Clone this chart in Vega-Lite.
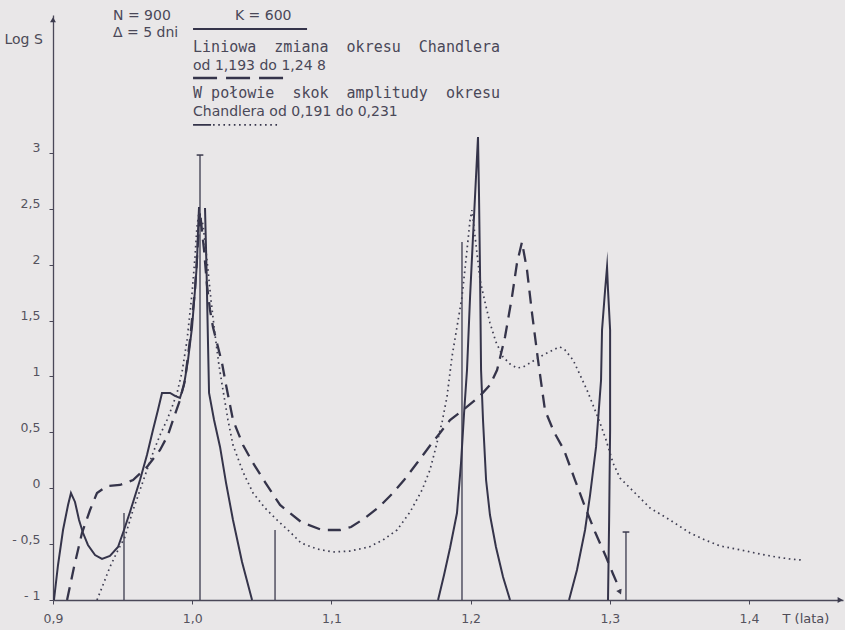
{
  "$schema": "https://vega.github.io/schema/vega-lite/v6.json",
  "width": 790,
  "height": 585,
  "autosize": "none",
  "padding": {"left": 53, "top": 15, "right": 2, "bottom": 30},
  "background": "#e9e7e8",
  "config": {
    "view": {"stroke": null},
    "font": "DejaVu Sans",
    "axis": {"grid": false, "labelFlush": false, "domainColor": "#4a4858", "domainWidth": 1.3, "tickColor": "#4a4858", "labelColor": "#55535e", "labelFont": "DejaVu Sans", "labelFontSize": 12.5, "titleColor": "#4d4b57", "titleFont": "DejaVu Sans", "titleFontWeight": "normal"}
  },
  "datasets": {
    "curves": [
      {"s": "A", "T": 0.9007, "L": -1.0}, {"s": "A", "T": 0.9036, "L": -0.687}, {"s": "A", "T": 0.9072, "L": -0.374}, {"s": "A", "T": 0.9108, "L": -0.15}, {"s": "A", "T": 0.9129, "L": -0.043}, {"s": "A", "T": 0.9158, "L": -0.123}, {"s": "A", "T": 0.9187, "L": -0.284}, {"s": "A", "T": 0.9216, "L": -0.401}, {"s": "A", "T": 0.9251, "L": -0.508}, {"s": "A", "T": 0.9302, "L": -0.598}, {"s": "A", "T": 0.9352, "L": -0.633}, {"s": "A", "T": 0.9409, "L": -0.606}, {"s": "A", "T": 0.9467, "L": -0.526}, {"s": "A", "T": 0.951, "L": -0.374}, {"s": "A", "T": 0.9553, "L": -0.213}, {"s": "A", "T": 0.9625, "L": 0.073}, {"s": "A", "T": 0.9675, "L": 0.297}, {"s": "A", "T": 0.9718, "L": 0.521}, {"s": "A", "T": 0.9754, "L": 0.699}, {"s": "A", "T": 0.9783, "L": 0.852}, {"s": "A", "T": 0.9841, "L": 0.852}, {"s": "A", "T": 0.9876, "L": 0.825}, {"s": "A", "T": 0.9912, "L": 0.807}, {"s": "A", "T": 0.9941, "L": 0.923}, {"s": "A", "T": 0.997, "L": 1.147}, {"s": "A", "T": 0.9999, "L": 1.442}, {"s": "A", "T": 1.002, "L": 1.773}, {"s": "A", "T": 1.0034, "L": 2.014}, {"s": "A", "T": 1.0042, "L": 2.309}, {"s": "A", "T": 1.0049, "L": 2.515},
      {"s": "B", "T": 1.0092, "L": 2.506}, {"s": "B", "T": 1.0103, "L": 1.952}, {"s": "B", "T": 1.0113, "L": 1.326}, {"s": "B", "T": 1.0121, "L": 0.852}, {"s": "B", "T": 1.0157, "L": 0.61}, {"s": "B", "T": 1.02, "L": 0.369}, {"s": "B", "T": 1.0243, "L": 0.047}, {"s": "B", "T": 1.0293, "L": -0.284}, {"s": "B", "T": 1.0358, "L": -0.66}, {"s": "B", "T": 1.043, "L": -1.0},
      {"s": "C", "T": 1.1766, "L": -1.0}, {"s": "C", "T": 1.1809, "L": -0.776}, {"s": "C", "T": 1.1852, "L": -0.535}, {"s": "C", "T": 1.1902, "L": -0.222}, {"s": "C", "T": 1.1931, "L": 0.225}, {"s": "C", "T": 1.1953, "L": 0.673}, {"s": "C", "T": 1.1974, "L": 1.057}, {"s": "C", "T": 1.1996, "L": 1.71}, {"s": "C", "T": 1.2017, "L": 2.247}, {"s": "C", "T": 1.2053, "L": 3.141}, {"s": "C", "T": 1.206, "L": 2.64}, {"s": "C", "T": 1.2068, "L": 1.889}, {"s": "C", "T": 1.2075, "L": 1.057}, {"s": "C", "T": 1.2089, "L": 0.61}, {"s": "C", "T": 1.2111, "L": 0.073}, {"s": "C", "T": 1.2139, "L": -0.24}, {"s": "C", "T": 1.2182, "L": -0.526}, {"s": "C", "T": 1.2233, "L": -0.794}, {"s": "C", "T": 1.2283, "L": -1.0},
      {"s": "D", "T": 1.2707, "L": -1.0}, {"s": "D", "T": 1.2764, "L": -0.732}, {"s": "D", "T": 1.2822, "L": -0.374}, {"s": "D", "T": 1.2858, "L": -0.061}, {"s": "D", "T": 1.2901, "L": 0.369}, {"s": "D", "T": 1.2937, "L": 0.968}, {"s": "D", "T": 1.2944, "L": 1.415}, {"s": "D", "T": 1.2966, "L": 1.773}, {"s": "D", "T": 1.298, "L": 1.979}, {"s": "D", "T": 1.2987, "L": 1.773}, {"s": "D", "T": 1.3002, "L": 1.415}, {"s": "D", "T": 1.3002, "L": 0.521}, {"s": "D", "T": 1.2995, "L": -0.284}, {"s": "D", "T": 1.2987, "L": -1.0},
      {"s": "dash", "T": 0.9101, "L": -1.0}, {"s": "dash", "T": 0.9151, "L": -0.705}, {"s": "dash", "T": 0.9208, "L": -0.401}, {"s": "dash", "T": 0.9266, "L": -0.195}, {"s": "dash", "T": 0.9316, "L": -0.043}, {"s": "dash", "T": 0.9388, "L": 0.02}, {"s": "dash", "T": 0.9481, "L": 0.029}, {"s": "dash", "T": 0.9575, "L": 0.073}, {"s": "dash", "T": 0.9675, "L": 0.19}, {"s": "dash", "T": 0.9769, "L": 0.342}, {"s": "dash", "T": 0.9826, "L": 0.476}, {"s": "dash", "T": 0.9862, "L": 0.61}, {"s": "dash", "T": 0.9912, "L": 0.789}, {"s": "dash", "T": 0.9948, "L": 0.968}, {"s": "dash", "T": 0.9984, "L": 1.326}, {"s": "dash", "T": 1.002, "L": 1.773}, {"s": "dash", "T": 1.0042, "L": 2.22}, {"s": "dash", "T": 1.0056, "L": 2.47}, {"s": "dash", "T": 1.0085, "L": 2.131}, {"s": "dash", "T": 1.0106, "L": 1.818}, {"s": "dash", "T": 1.0128, "L": 1.594}, {"s": "dash", "T": 1.0149, "L": 1.442}, {"s": "dash", "T": 1.0178, "L": 1.299}, {"s": "dash", "T": 1.0214, "L": 1.12}, {"s": "dash", "T": 1.0243, "L": 0.923}, {"s": "dash", "T": 1.0293, "L": 0.61}, {"s": "dash", "T": 1.0365, "L": 0.386}, {"s": "dash", "T": 1.0437, "L": 0.225}, {"s": "dash", "T": 1.0523, "L": 0.055}, {"s": "dash", "T": 1.0631, "L": -0.15}, {"s": "dash", "T": 1.0782, "L": -0.302}, {"s": "dash", "T": 1.0932, "L": -0.374}, {"s": "dash", "T": 1.1062, "L": -0.374}, {"s": "dash", "T": 1.1141, "L": -0.347}, {"s": "dash", "T": 1.1241, "L": -0.267}, {"s": "dash", "T": 1.1342, "L": -0.168}, {"s": "dash", "T": 1.1435, "L": -0.052}, {"s": "dash", "T": 1.1522, "L": 0.073}, {"s": "dash", "T": 1.1615, "L": 0.225}, {"s": "dash", "T": 1.1701, "L": 0.369}, {"s": "dash", "T": 1.178, "L": 0.494}, {"s": "dash", "T": 1.1852, "L": 0.61}, {"s": "dash", "T": 1.1945, "L": 0.699}, {"s": "dash", "T": 1.206, "L": 0.816}, {"s": "dash", "T": 1.2139, "L": 0.923}, {"s": "dash", "T": 1.219, "L": 1.057}, {"s": "dash", "T": 1.2247, "L": 1.352}, {"s": "dash", "T": 1.2297, "L": 1.71}, {"s": "dash", "T": 1.2333, "L": 2.014}, {"s": "dash", "T": 1.2369, "L": 2.202}, {"s": "dash", "T": 1.2405, "L": 1.952}, {"s": "dash", "T": 1.2441, "L": 1.567}, {"s": "dash", "T": 1.2484, "L": 1.147}, {"s": "dash", "T": 1.2534, "L": 0.699}, {"s": "dash", "T": 1.2599, "L": 0.503}, {"s": "dash", "T": 1.2671, "L": 0.342}, {"s": "dash", "T": 1.275, "L": 0.073}, {"s": "dash", "T": 1.2822, "L": -0.168}, {"s": "dash", "T": 1.2894, "L": -0.392}, {"s": "dash", "T": 1.2973, "L": -0.615}, {"s": "dash", "T": 1.3023, "L": -0.767}, {"s": "dash", "T": 1.3073, "L": -0.911},
      {"s": "dot", "T": 0.9316, "L": -1.0}, {"s": "dot", "T": 0.9359, "L": -0.866}, {"s": "dot", "T": 0.9409, "L": -0.705}, {"s": "dot", "T": 0.946, "L": -0.571}, {"s": "dot", "T": 0.9517, "L": -0.436}, {"s": "dot", "T": 0.9568, "L": -0.222}, {"s": "dot", "T": 0.9625, "L": -0.016}, {"s": "dot", "T": 0.9675, "L": 0.163}, {"s": "dot", "T": 0.9718, "L": 0.315}, {"s": "dot", "T": 0.9769, "L": 0.476}, {"s": "dot", "T": 0.9819, "L": 0.61}, {"s": "dot", "T": 0.9855, "L": 0.726}, {"s": "dot", "T": 0.9891, "L": 0.852}, {"s": "dot", "T": 0.9927, "L": 1.039}, {"s": "dot", "T": 0.9963, "L": 1.326}, {"s": "dot", "T": 0.9999, "L": 1.746}, {"s": "dot", "T": 1.002, "L": 2.068}, {"s": "dot", "T": 1.0034, "L": 2.336}, {"s": "dot", "T": 1.0049, "L": 2.47}, {"s": "dot", "T": 1.0078, "L": 2.354}, {"s": "dot", "T": 1.0106, "L": 2.041}, {"s": "dot", "T": 1.0135, "L": 1.683}, {"s": "dot", "T": 1.0164, "L": 1.37}, {"s": "dot", "T": 1.0192, "L": 1.102}, {"s": "dot", "T": 1.0221, "L": 0.878}, {"s": "dot", "T": 1.0257, "L": 0.61}, {"s": "dot", "T": 1.0293, "L": 0.386}, {"s": "dot", "T": 1.0365, "L": 0.145}, {"s": "dot", "T": 1.0437, "L": -0.043}, {"s": "dot", "T": 1.0523, "L": -0.177}, {"s": "dot", "T": 1.0609, "L": -0.284}, {"s": "dot", "T": 1.0703, "L": -0.392}, {"s": "dot", "T": 1.0782, "L": -0.49}, {"s": "dot", "T": 1.0897, "L": -0.544}, {"s": "dot", "T": 1.1011, "L": -0.571}, {"s": "dot", "T": 1.1134, "L": -0.562}, {"s": "dot", "T": 1.127, "L": -0.526}, {"s": "dot", "T": 1.1371, "L": -0.463}, {"s": "dot", "T": 1.1471, "L": -0.374}, {"s": "dot", "T": 1.1565, "L": -0.213}, {"s": "dot", "T": 1.1651, "L": -0.016}, {"s": "dot", "T": 1.1708, "L": 0.163}, {"s": "dot", "T": 1.1751, "L": 0.369}, {"s": "dot", "T": 1.1795, "L": 0.592}, {"s": "dot", "T": 1.183, "L": 0.816}, {"s": "dot", "T": 1.1866, "L": 1.174}, {"s": "dot", "T": 1.1902, "L": 1.442}, {"s": "dot", "T": 1.1938, "L": 1.71}, {"s": "dot", "T": 1.1974, "L": 2.131}, {"s": "dot", "T": 1.1996, "L": 2.399}, {"s": "dot", "T": 1.201, "L": 2.488}, {"s": "dot", "T": 1.2039, "L": 2.175}, {"s": "dot", "T": 1.2068, "L": 1.862}, {"s": "dot", "T": 1.2103, "L": 1.665}, {"s": "dot", "T": 1.2139, "L": 1.478}, {"s": "dot", "T": 1.2182, "L": 1.308}, {"s": "dot", "T": 1.2233, "L": 1.174}, {"s": "dot", "T": 1.2283, "L": 1.111}, {"s": "dot", "T": 1.2333, "L": 1.075}, {"s": "dot", "T": 1.2376, "L": 1.084}, {"s": "dot", "T": 1.2427, "L": 1.12}, {"s": "dot", "T": 1.2484, "L": 1.165}, {"s": "dot", "T": 1.2549, "L": 1.209}, {"s": "dot", "T": 1.2606, "L": 1.245}, {"s": "dot", "T": 1.2642, "L": 1.263}, {"s": "dot", "T": 1.2678, "L": 1.236}, {"s": "dot", "T": 1.2736, "L": 1.147}, {"s": "dot", "T": 1.2786, "L": 1.013}, {"s": "dot", "T": 1.2836, "L": 0.878}, {"s": "dot", "T": 1.2879, "L": 0.744}, {"s": "dot", "T": 1.293, "L": 0.583}, {"s": "dot", "T": 1.2973, "L": 0.431}, {"s": "dot", "T": 1.3023, "L": 0.225}, {"s": "dot", "T": 1.3073, "L": 0.091}, {"s": "dot", "T": 1.3181, "L": -0.043}, {"s": "dot", "T": 1.3289, "L": -0.177}, {"s": "dot", "T": 1.3432, "L": -0.284}, {"s": "dot", "T": 1.3576, "L": -0.401}, {"s": "dot", "T": 1.3684, "L": -0.463}, {"s": "dot", "T": 1.3792, "L": -0.517}, {"s": "dot", "T": 1.3943, "L": -0.553}, {"s": "dot", "T": 1.4079, "L": -0.589}, {"s": "dot", "T": 1.4194, "L": -0.615}, {"s": "dot", "T": 1.4294, "L": -0.633}, {"s": "dot", "T": 1.4373, "L": -0.642}
    ],
    "markers": [
      {"T": 0.951, "top": -0.222, "cap": false},
      {"T": 1.0056, "top": 2.98, "cap": true},
      {"T": 1.0595, "top": -0.374, "cap": false},
      {"T": 1.1938, "top": 2.202, "cap": false},
      {"T": 1.3116, "top": -0.392, "cap": true}
    ],
    "samples": [
      {"k": "solid", "T1": 1.0006, "T2": 1.0825, "L": 4.107},
      {"k": "dash", "T1": 1.0006, "T2": 1.0688, "L": 3.669},
      {"k": "dot", "T1": 1.0006, "T2": 1.0628, "L": 3.249}
    ],
    "labels": [
      {"t": "N = 900", "T": 0.9431, "L": 4.224},
      {"t": "Δ = 5  dni", "T": 0.9431, "L": 4.072},
      {"t": "K = 600", "T": 1.0307, "L": 4.224},
      {"t": "Liniowa \u00a0zmiana \u00a0okresu \u00a0Chandlera", "T": 1.0006, "L": 3.946},
      {"t": "od 1,193  do  1,24 8", "T": 1.0006, "L": 3.776},
      {"t": "W połowie \u00a0skok \u00a0amplitudy \u00a0okresu", "T": 1.0006, "L": 3.535},
      {"t": "Chandlera  od 0,191  do  0,231", "T": 1.0006, "L": 3.365}
    ],
    "arrows": [
      {"T": 0.9, "L": 4.19, "a": 0},
      {"T": 1.4655, "L": -1.0, "a": 90},
      {"T": 1.3073, "L": -0.93, "a": 156}
    ]
  },
  "layer": [
    {
      "data": {"name": "markers"},
      "transform": [{"calculate": "-1", "as": "bot"}],
      "mark": {"type": "rule", "color": "#3b3a4d", "strokeWidth": 1.3},
      "encoding": {
        "x": {"field": "T", "type": "quantitative", "scale": {"domain": [0.9, 1.4675], "nice": false, "zero": false},
          "axis": {"values": [0.9, 1.0, 1.1, 1.2, 1.3, 1.4], "labelExpr": "replace(format(datum.value, '.1f'), '.', ',')", "tickSize": 4, "labelPadding": 8, "title": "T (lata)", "titleX": 729, "titleY": 18, "titleAlign": "left", "titleBaseline": "middle", "titleFontSize": 13}},
        "y": {"field": "top", "type": "quantitative", "scale": {"domain": [-1, 4.2326], "nice": false, "zero": false},
          "axis": {"values": [-1, -0.5, 0, 0.5, 1, 1.5, 2, 2.5, 3], "labelExpr": "datum.value < 0 ? '- ' + replace(format(-datum.value, ''), '.', ',') : replace(format(datum.value, ''), '.', ',')", "tickSize": 4, "labelPadding": 9, "labelOffset": -5, "title": "Log S", "titleAngle": 0, "titleX": -49, "titleY": 24, "titleAlign": "left", "titleBaseline": "middle", "titleFontSize": 14}},
        "y2": {"field": "bot"}
      }
    },
    {
      "data": {"name": "markers"},
      "transform": [{"filter": "datum.cap"}],
      "mark": {"type": "point", "shape": "M-1,0L1,0", "filled": false, "size": 45, "stroke": "#3b3a4d", "strokeWidth": 1.5, "opacity": 1},
      "encoding": {"x": {"field": "T", "type": "quantitative"}, "y": {"field": "top", "type": "quantitative"}}
    },
    {
      "data": {"name": "curves"},
      "transform": [{"window": [{"op": "row_number", "as": "i"}]}, {"filter": {"field": "s", "oneOf": ["A", "B", "C", "D"]}}],
      "mark": {"type": "line", "color": "#35344a", "strokeWidth": 2, "strokeJoin": "miter", "strokeMiterLimit": 20},
      "encoding": {"x": {"field": "T", "type": "quantitative"}, "y": {"field": "L", "type": "quantitative"}, "detail": {"field": "s", "type": "nominal"}, "order": {"field": "i", "type": "quantitative"}}
    },
    {
      "data": {"name": "curves"},
      "transform": [{"filter": {"field": "s", "equal": "dash"}}],
      "mark": {"type": "line", "color": "#35344a", "strokeWidth": 2.3, "strokeDash": [13, 8]},
      "encoding": {"x": {"field": "T", "type": "quantitative"}, "y": {"field": "L", "type": "quantitative"}}
    },
    {
      "data": {"name": "curves"},
      "transform": [{"filter": {"field": "s", "equal": "dot"}}],
      "mark": {"type": "line", "color": "#3f3e52", "strokeWidth": 1.7, "strokeDash": [1.6, 3.6]},
      "encoding": {"x": {"field": "T", "type": "quantitative"}, "y": {"field": "L", "type": "quantitative"}}
    },
    {
      "data": {"name": "samples"},
      "transform": [{"filter": {"field": "k", "equal": "solid"}}],
      "mark": {"type": "rule", "color": "#35344a", "strokeWidth": 2},
      "encoding": {"x": {"field": "T1", "type": "quantitative"}, "x2": {"field": "T2"}, "y": {"field": "L", "type": "quantitative"}}
    },
    {
      "data": {"name": "samples"},
      "transform": [{"filter": {"field": "k", "equal": "dash"}}],
      "mark": {"type": "rule", "color": "#35344a", "strokeWidth": 2.3, "strokeDash": [24, 9]},
      "encoding": {"x": {"field": "T1", "type": "quantitative"}, "x2": {"field": "T2"}, "y": {"field": "L", "type": "quantitative"}}
    },
    {
      "data": {"name": "samples"},
      "transform": [{"filter": {"field": "k", "equal": "dot"}}],
      "mark": {"type": "rule", "color": "#35344a", "strokeWidth": 1.7, "strokeDash": [18, 2, 1.6, 3.6, 1.6, 3.6, 1.6, 3.6, 1.6, 3.6, 1.6, 3.6, 1.6, 3.6, 1.6, 3.6, 1.6, 3.6, 1.6, 3.6, 1.6, 3.6, 1.6, 3.6, 1.6, 3.6, 1.6, 3.6, 1.6, 3.6, 1.6, 3.6, 1.6, 3.6, 1.6, 3.6, 1.6, 3.6, 1.6, 30]},
      "encoding": {"x": {"field": "T1", "type": "quantitative"}, "x2": {"field": "T2"}, "y": {"field": "L", "type": "quantitative"}}
    },
    {
      "data": {"name": "labels"},
      "transform": [{"filter": "indexof(datum.t, 'Liniowa') == 0 || indexof(datum.t, 'W po') == 0"}],
      "mark": {"type": "text", "align": "left", "baseline": "middle", "font": "DejaVu Sans Mono", "fontSize": 15, "color": "#4a4858"},
      "encoding": {"x": {"field": "T", "type": "quantitative"}, "y": {"field": "L", "type": "quantitative"}, "text": {"field": "t", "type": "nominal"}}
    },
    {
      "data": {"name": "labels"},
      "transform": [{"filter": "!(indexof(datum.t, 'Liniowa') == 0 || indexof(datum.t, 'W po') == 0)"}],
      "mark": {"type": "text", "align": "left", "baseline": "middle", "font": "DejaVu Sans", "fontSize": 14, "color": "#4a4858"},
      "encoding": {"x": {"field": "T", "type": "quantitative"}, "y": {"field": "L", "type": "quantitative"}, "text": {"field": "t", "type": "nominal"}}
    },
    {
      "data": {"name": "arrows"},
      "mark": {"type": "point", "shape": "triangle-up", "filled": true, "size": 35, "color": "#3b3a4d", "opacity": 1},
      "encoding": {"x": {"field": "T", "type": "quantitative"}, "y": {"field": "L", "type": "quantitative"}, "angle": {"field": "a", "type": "quantitative", "scale": null}}
    }
  ]
}
